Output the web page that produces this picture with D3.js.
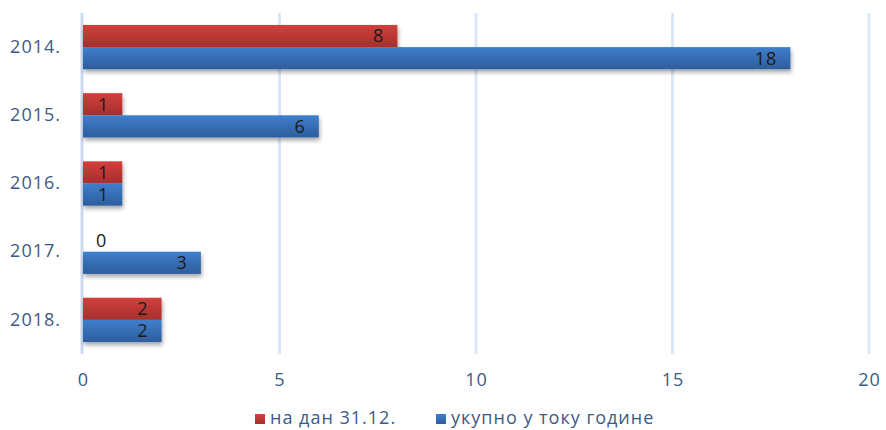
<!DOCTYPE html>
<html>
<head>
<meta charset="utf-8">
<script src="https://cdn.jsdelivr.net/npm/d3@7"></script>
<style>
  html, body { margin: 0; padding: 0; background: #fff; }
  svg { display: block; }
</style>
</head>
<body>
<svg id="chart" width="886" height="430"></svg>
<script>
const categories = ["2014.", "2015.", "2016.", "2017.", "2018."];
const seriesNames = ["на дан 31.12.", "укупно у току године"];
const onDate = [8, 1, 1, 0, 2];
const totalYear = [18, 6, 1, 3, 2];
const xTicks = [0, 5, 10, 15, 20];

const W = 886, H = 430;
const margin = { left: 83, right: 17, top: 13, bottom: 76 };
const FONT = "'Open Sans', sans-serif";
const svg = d3.select("#chart");
const defs = svg.append("defs");

function grad(id, top, bottom) {
  const g = defs.append("linearGradient").attr("id", id)
    .attr("x1", 0).attr("y1", 0).attr("x2", 0).attr("y2", 1);
  g.append("stop").attr("offset", "0%").attr("stop-color", top);
  g.append("stop").attr("offset", "100%").attr("stop-color", bottom);
}
grad("gRed", "#d2403d", "#a52f2c");
grad("gBlue", "#3f7fcc", "#2d5d9c");

const f = defs.append("filter").attr("id", "shadow")
  .attr("x", "-10%").attr("y", "-30%").attr("width", "130%").attr("height", "180%");
f.append("feGaussianBlur").attr("in", "SourceAlpha").attr("stdDeviation", 2);
f.append("feOffset").attr("dx", 1).attr("dy", 3).attr("result", "ob");
f.append("feComponentTransfer").append("feFuncA").attr("type", "linear").attr("slope", 0.35);
const fm = f.append("feMerge");
fm.append("feMergeNode");
fm.append("feMergeNode").attr("in", "SourceGraphic");

const x = d3.scaleLinear().domain([0, 20]).range([margin.left, W - margin.right]);
const y = d3.scaleBand().domain(categories).range([margin.top, H - margin.bottom])
  .paddingInner(0.35).paddingOuter(0.175);
const inner = d3.scaleBand().domain([0, 1]).range([0, y.bandwidth()]);

// gridlines
svg.append("g").selectAll("line").data(xTicks.slice(1)).join("line")
  .attr("x1", d => x(d)).attr("x2", d => x(d))
  .attr("y1", margin.top).attr("y2", H - margin.bottom)
  .attr("stroke", "#dbe7f6").attr("stroke-width", 3);
svg.append("line")
  .attr("x1", x(0) - 1).attr("x2", x(0) - 1)
  .attr("y1", margin.top).attr("y2", H - margin.bottom)
  .attr("stroke", "#cbdaf0").attr("stroke-width", 3);

// x axis
const xAxis = d3.axisBottom(x).tickValues(xTicks).tickSize(0).tickPadding(0);
const gx = svg.append("g").attr("transform", `translate(0,${H - margin.bottom + 32})`).call(xAxis);
gx.select(".domain").remove();
gx.selectAll("text").attr("font-family", FONT).attr("font-size", 18).attr("letter-spacing", 1)
  .attr("fill", "#3c5a86").attr("dy", "0em");

// y axis
const yAxis = d3.axisLeft(y).tickSize(0).tickPadding(0);
const gy = svg.append("g").attr("transform", `translate(${margin.left - 22},0)`).call(yAxis);
gy.select(".domain").remove();
gy.selectAll("text").attr("font-family", FONT).attr("font-size", 18).attr("letter-spacing", 1)
  .attr("fill", "#3c5a86");

const data = categories.map((c, i) => ({ c, vals: [onDate[i], totalYear[i]] }));
const fills = ["url(#gRed)", "url(#gBlue)"];

const grp = svg.append("g").selectAll("g").data(data).join("g")
  .attr("transform", d => `translate(0,${y(d.c)})`);

grp.selectAll("rect").data(d => d.vals.map((v, k) => ({ v, k })).filter(e => e.v > 0)).join("rect")
  .attr("x", x(0)).attr("y", e => inner(e.k))
  .attr("width", e => x(e.v) - x(0)).attr("height", inner.bandwidth())
  .attr("fill", e => fills[e.k]).attr("filter", "url(#shadow)");

grp.selectAll("text").data(d => d.vals.map((v, k) => ({ v, k }))).join("text")
  .attr("x", e => e.v > 0 ? x(e.v) - 13 : x(0) + 13)
  .attr("y", e => inner(e.k) + inner.bandwidth() / 2)
  .attr("dy", "0.36em")
  .attr("text-anchor", e => e.v > 0 ? "end" : "start")
  .attr("font-family", FONT).attr("font-size", 18).attr("letter-spacing", 1)
  .attr("fill", "#1a1a1a")
  .text(e => e.v);

// legend
const leg = svg.append("g").attr("transform", `translate(0,${H - 6})`);
const legX = [255, 436];
seriesNames.forEach((n, k) => {
  leg.append("rect").attr("x", legX[k]).attr("y", -10).attr("width", 10).attr("height", 10)
    .attr("fill", fills[k]);
  leg.append("text").attr("x", legX[k] + 15).attr("y", 0)
    .attr("font-family", FONT).attr("font-size", 18).attr("letter-spacing", 1)
    .attr("fill", "#3c5a86").text(n);
});
</script>
</body>
</html>
